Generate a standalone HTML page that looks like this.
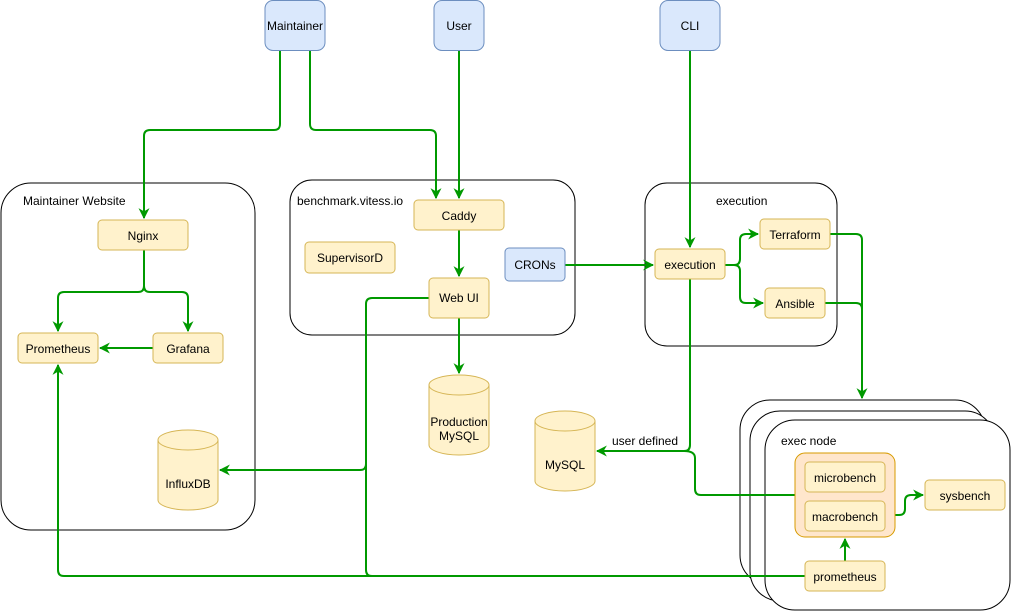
<!DOCTYPE html>
<html><head><meta charset="utf-8"><style>
body{margin:0;background:#fff}
svg{display:block}
text{font-family:"Liberation Sans",Helvetica,sans-serif;font-size:12px;fill:#000}
</style></head><body>
<svg width="1011" height="611" viewBox="0 0 1011 611" xmlns="http://www.w3.org/2000/svg">
<defs>
<marker id="a" viewBox="0 0 10 10" refX="9" refY="5" markerWidth="11" markerHeight="11" orient="auto" markerUnits="userSpaceOnUse">
<path d="M0,0 L10,5 L0,10 L3,5 z" fill="#009900"/>
</marker>
</defs>
<rect x="1" y="183" width="254" height="347" rx="30" fill="#fff" stroke="#000"/>
<text x="23" y="205">Maintainer Website</text>
<rect x="290" y="180" width="285" height="155" rx="22" fill="#fff" stroke="#000"/>
<text x="297" y="205">benchmark.vitess.io</text>
<rect x="645" y="183" width="192" height="163" rx="22" fill="#fff" stroke="#000"/>
<text x="716" y="205">execution</text>
<rect x="740" y="400" width="245" height="185" rx="30" fill="#fff" stroke="#000"/>
<rect x="750" y="411" width="245" height="190" rx="30" fill="#fff" stroke="#000"/>
<rect x="765" y="420" width="245" height="190" rx="30" fill="#fff" stroke="#000"/>
<text x="781" y="445">exec node</text>

<g fill="none" stroke="#009900" stroke-width="2">
<path d="M280,50 V124 Q280,130 274,130 H150 Q144,130 144,136 V218" marker-end="url(#a)"/>
<path d="M310,50 V124 Q310,130 316,130 H430 Q436,130 436,136 V198" marker-end="url(#a)"/>
<path d="M459,50 V198" marker-end="url(#a)"/>
<path d="M690,50 V247" marker-end="url(#a)"/>
<path d="M144,250 V286 Q144,292 138,292 H64 Q58,292 58,298 V331" marker-end="url(#a)"/>
<path d="M144,286 Q144,292 150,292 H182 Q188,292 188,298 V331" marker-end="url(#a)"/>
<path d="M153,348 H100" marker-end="url(#a)"/>
<path d="M459,230 V276" marker-end="url(#a)"/>
<path d="M459,318 V373" marker-end="url(#a)"/>
<path d="M565,265 H653" marker-end="url(#a)"/>
<path d="M725,265 H734 Q740,265 740,259 V240 Q740,234 746,234 H758" marker-end="url(#a)"/>
<path d="M734,265 Q740,265 740,271 V297 Q740,303 746,303 H763" marker-end="url(#a)"/>
<path d="M830,234 H856 Q862,234 862,240 V398" marker-end="url(#a)"/>
<path d="M825,303 H856 Q862,303 862,309"/>
<path d="M690,279 V445 Q690,451 684,451 H597" marker-end="url(#a)"/>
<path d="M684,451 Q695,451 695,458 V489 Q695,495 701,495 H795"/>
<path d="M805,576 H64 Q58,576 58,570 V365" marker-end="url(#a)"/>
<path d="M372,576 Q366,576 366,570 V304 Q366,298 372,298 H429"/>
<path d="M366,464 Q366,470 360,470 H220" marker-end="url(#a)"/>
<path d="M845,561 V539" marker-end="url(#a)"/>
<path d="M885,515 H899 Q905,515 905,509 V501 Q905,495 911,495 H923" marker-end="url(#a)"/>
</g>

<g fill="#dae8fc" stroke="#6c8ebf">
<rect x="265" y="0.5" width="60" height="50" rx="8"/>
<rect x="434" y="0.5" width="50" height="50" rx="8"/>
<rect x="660" y="0.5" width="60" height="50" rx="8"/>
<rect x="505" y="248" width="60" height="33" rx="4"/>
</g>
<g fill="#fff2cc" stroke="#d6b656">
<rect x="98" y="220" width="90" height="30" rx="4"/>
<rect x="18" y="333" width="80" height="30" rx="4"/>
<rect x="153" y="333" width="70" height="30" rx="4"/>
<rect x="414" y="200" width="90" height="30" rx="4"/>
<rect x="305" y="242" width="90" height="31" rx="4"/>
<rect x="429" y="278" width="60" height="40" rx="4"/>
<rect x="655" y="249" width="70" height="30" rx="4"/>
<rect x="760" y="219" width="70" height="30" rx="4"/>
<rect x="765" y="288" width="60" height="30" rx="4"/>
<rect x="925" y="480" width="80" height="30" rx="4"/>
</g>
<rect x="795" y="453" width="100" height="84" rx="10" fill="#ffe6cc" stroke="#d79b00"/>
<g fill="#fff2cc" stroke="#d6b656">
<rect x="805" y="462" width="80" height="30" rx="4"/>
<rect x="805" y="501" width="80" height="30" rx="4"/>
<rect x="805" y="561" width="80" height="30" rx="4"/>
<path d="M158,440 A30,10 0 0 1 218,440 V500 A30,10 0 0 1 158,500 Z"/>
<path d="M158,440 A30,10 0 0 0 218,440" fill="none"/>
<path d="M429,385 A30,10 0 0 1 489,385 V445 A30,10 0 0 1 429,445 Z"/>
<path d="M429,385 A30,10 0 0 0 489,385" fill="none"/>
<path d="M535,421 A30,10 0 0 1 595,421 V481 A30,10 0 0 1 535,481 Z"/>
<path d="M535,421 A30,10 0 0 0 595,421" fill="none"/>
</g>

<g text-anchor="middle">
<text x="295" y="30">Maintainer</text>
<text x="459" y="30">User</text>
<text x="690" y="30">CLI</text>
<text x="535" y="269">CRONs</text>
<text x="143" y="240">Nginx</text>
<text x="58" y="353">Prometheus</text>
<text x="188" y="353">Grafana</text>
<text x="459" y="220">Caddy</text>
<text x="350" y="262">SupervisorD</text>
<text x="459" y="302">Web UI</text>
<text x="690" y="269">execution</text>
<text x="795" y="239">Terraform</text>
<text x="795" y="308">Ansible</text>
<text x="965" y="500">sysbench</text>
<text x="845" y="482">microbench</text>
<text x="845" y="521">macrobench</text>
<text x="845" y="581">prometheus</text>
<text x="188" y="488">InfluxDB</text>
<text x="459" y="426">Production</text>
<text x="459" y="440">MySQL</text>
<text x="565" y="469">MySQL</text>
<text x="645" y="445">user defined</text>
</g>
</svg>
</body></html>
